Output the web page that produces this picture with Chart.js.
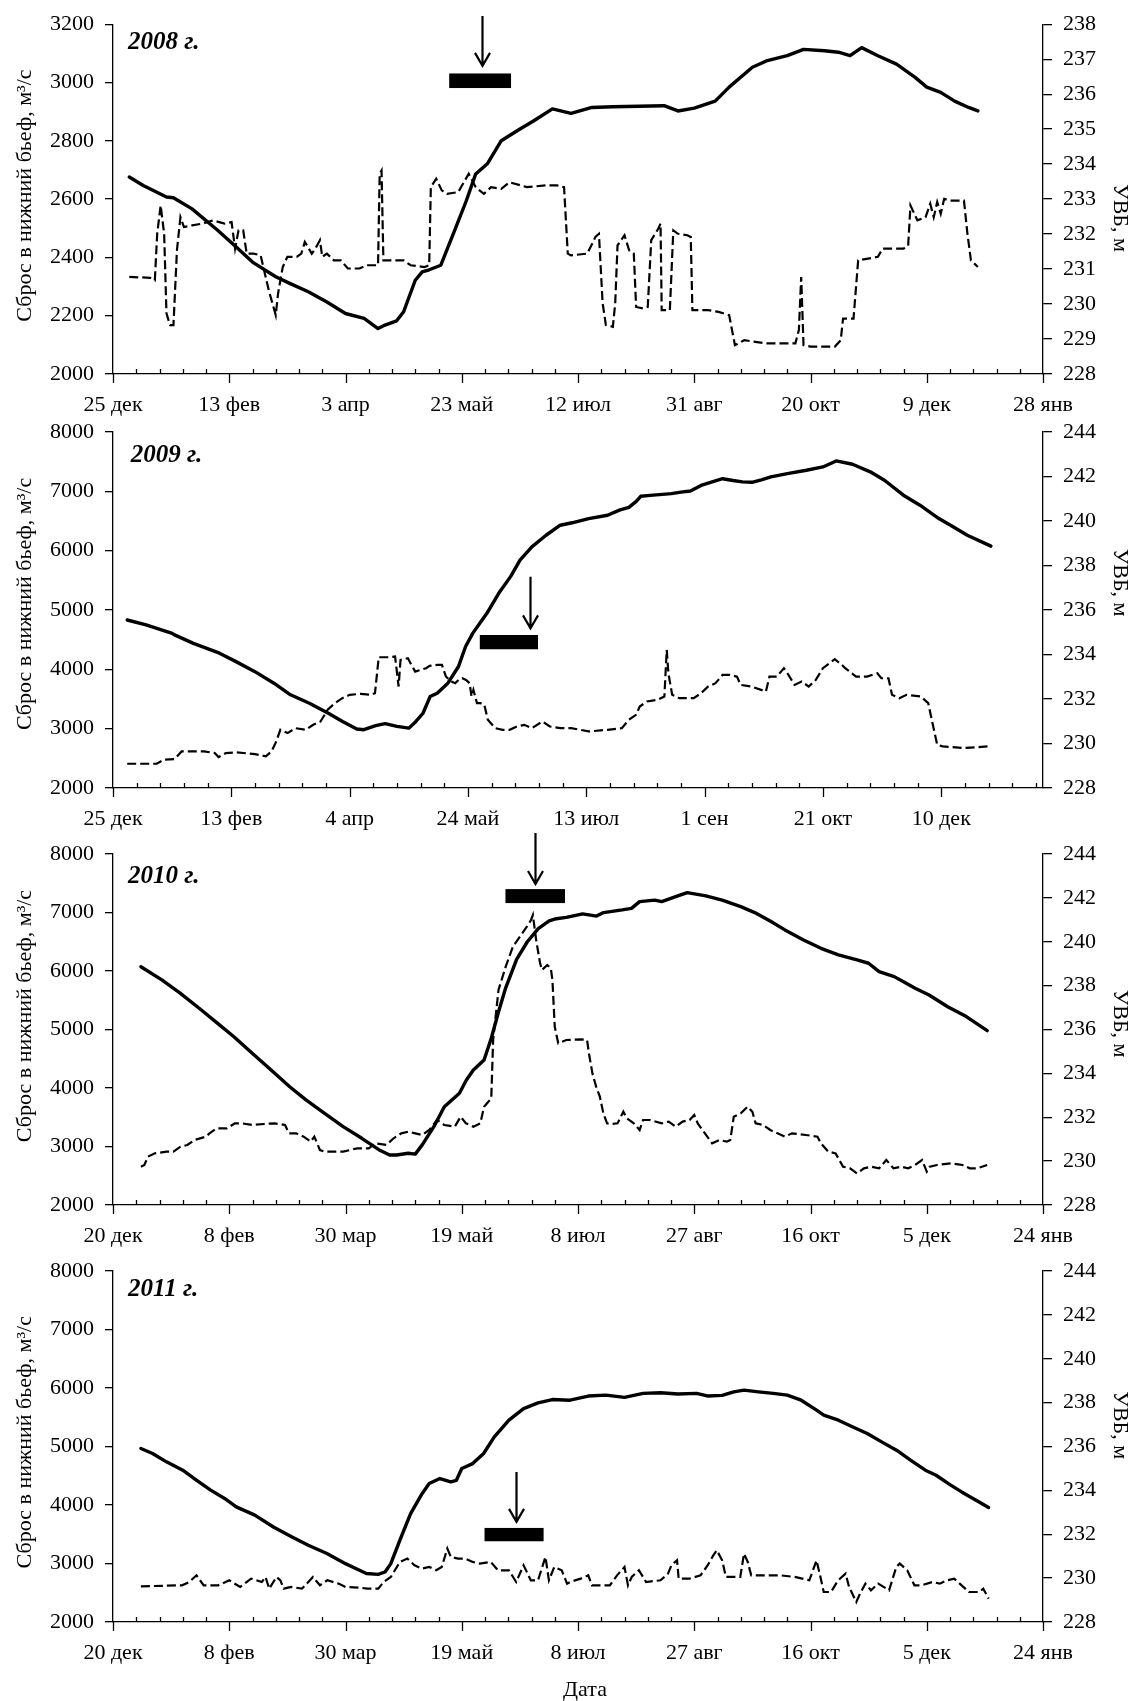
<!DOCTYPE html>
<html lang="ru">
<head>
<meta charset="utf-8">
<title>Сброс в нижний бьеф и УВБ, 2008–2011</title>
<script src="https://cdn.jsdelivr.net/npm/chart.js@4.4.1/dist/chart.umd.min.js"></script>
<style>
  html, body { margin: 0; padding: 0; background: #fff; }
  body { width: 1140px; height: 1701px; position: relative; overflow: hidden; }
  canvas { position: absolute; left: 0; }
</style>
</head>
<body>
<canvas id="c2008" width="1140" height="424" style="top:0px"></canvas>
<canvas id="c2009" width="1140" height="436" style="top:402px"></canvas>
<canvas id="c2010" width="1140" height="431" style="top:824px"></canvas>
<canvas id="c2011" width="1140" height="460" style="top:1241px"></canvas>
<script>
// x values are days from the first tick of each panel's date axis

const ticks2008 = ["25 дек", "13 фев", "3 апр", "23 май", "12 июл", "31 авг", "20 окт", "9 дек", "28 янв"];
const ticks2009 = ["25 дек", "13 фев", "4 апр", "24 май", "13 июл", "1 сен", "21 окт", "10 дек"];
const ticks2010 = ["20 дек", "8 фев", "30 мар", "19 май", "8 июл", "27 авг", "16 окт", "5 дек", "24 янв"];
const ticks2011 = ["20 дек", "8 фев", "30 мар", "19 май", "8 июл", "27 авг", "16 окт", "5 дек", "24 янв"];

// УВБ, м (solid line, right axis)
const level2008 = [
  [7, 233.63], [13, 233.39], [23, 233.06], [26, 233.04], [34, 232.72], [45, 232.11], [53, 231.63], [60, 231.2],
  [70, 230.78], [76, 230.59], [84, 230.35], [92, 230.06], [100, 229.73], [108, 229.59], [114, 229.3], [117, 229.4],
  [122, 229.52], [125, 229.78], [130, 230.68], [133, 230.92], [136, 230.98], [141, 231.11], [147, 232.11],
  [152, 232.96], [156, 233.72], [161, 234.01], [167, 234.67], [174, 234.96], [181, 235.24], [189, 235.58],
  [197, 235.45], [206, 235.62], [215, 235.64], [237, 235.67], [243, 235.52], [250, 235.6], [259, 235.8],
  [265, 236.2], [275, 236.77], [281, 236.95], [290, 237.1], [297, 237.28], [306, 237.24], [312, 237.2],
  [317, 237.1], [322, 237.33], [329, 237.1], [337, 236.86], [345, 236.48], [350, 236.2], [356, 236.05],
  [362, 235.8], [368, 235.62], [372, 235.52]
];
const level2009 = [
  [6, 235.55], [14, 235.33], [25, 234.95], [26, 234.88], [34, 234.5], [45, 234.06], [52, 233.68], [60, 233.23],
  [68, 232.71], [75, 232.19], [83, 231.81], [91, 231.36], [97, 230.99], [103, 230.65], [106, 230.62], [111, 230.8],
  [115, 230.89], [120, 230.77], [125, 230.69], [128, 230.99], [131, 231.36], [134, 232.11], [137, 232.26],
  [141.5, 232.71], [146, 233.46], [149, 234.36], [152, 234.95], [155, 235.4], [158, 235.85], [163, 236.75],
  [168, 237.5], [172, 238.24], [177, 238.84], [183, 239.36], [189, 239.81], [194, 239.92], [201, 240.11],
  [209, 240.26], [214, 240.49], [218, 240.61], [221, 240.87], [223, 241.11], [227, 241.15], [236, 241.23],
  [240, 241.3], [244, 241.35], [248.5, 241.6], [251.5, 241.7], [257.6, 241.9], [262, 241.82], [266, 241.76],
  [270, 241.74], [274, 241.85], [278, 241.98], [285, 242.13], [293, 242.28], [300, 242.43], [305.6, 242.7],
  [312.5, 242.55], [320, 242.21], [326, 241.83], [334, 241.16], [341, 240.71], [349, 240.11], [355, 239.74],
  [361, 239.36], [371, 238.87]
];
const level2010 = [
  [12, 238.86], [21, 238.26], [29, 237.65], [38, 236.89], [45, 236.28], [52, 235.67], [60, 234.91], [68, 234.15],
  [76, 233.39], [83, 232.79], [91, 232.18], [99, 231.57], [107, 231.04], [114.5, 230.51], [119, 230.28],
  [122, 230.28], [127, 230.36], [130, 230.32], [133, 230.74], [138, 231.57], [142.5, 232.48], [149, 233.09],
  [152, 233.7], [155, 234.15], [159.6, 234.61], [162.7, 235.6], [165.8, 236.8], [168.9, 237.9], [173.6, 239.2],
  [178.2, 240.0], [182.9, 240.6], [187.6, 240.95], [190.7, 241.05], [195, 241.11], [202, 241.27], [208, 241.17],
  [211, 241.33], [219, 241.45], [223, 241.52], [226.5, 241.83], [233, 241.9], [236, 241.83], [242, 242.06],
  [247, 242.24], [255, 242.09], [262, 241.9], [270, 241.6], [276, 241.33], [283, 240.92], [289, 240.54],
  [297, 240.08], [304.5, 239.7], [312, 239.4], [320, 239.17], [325, 239.02], [329.5, 238.64], [336, 238.41],
  [340, 238.18], [345, 237.88], [351, 237.57], [359, 237.04], [367, 236.59], [376, 235.95]
];
const level2011 = [
  [12, 235.91], [17, 235.68], [23, 235.3], [30, 234.92], [36, 234.46], [42, 234.01], [48, 233.63], [53, 233.25],
  [61, 232.87], [69, 232.33], [77, 231.88], [84, 231.5], [92, 231.12], [100, 230.66], [106, 230.36], [109, 230.21],
  [114, 230.17], [117, 230.28], [119.5, 230.66], [123.4, 231.73], [128, 232.94], [133, 233.86], [136, 234.31],
  [140.6, 234.54], [145.3, 234.39], [147.7, 234.46], [150, 235.0], [154.7, 235.22], [159.4, 235.68], [164, 236.44],
  [170.3, 237.2], [176.6, 237.73], [182.8, 237.99], [189, 238.14], [196.6, 238.11], [204.4, 238.3], [212, 238.34],
  [220, 238.24], [228, 238.42], [235.5, 238.45], [243, 238.39], [251, 238.42], [256, 238.3], [262, 238.33],
  [267, 238.49], [271.4, 238.57], [277.6, 238.49], [284, 238.42], [290, 238.34], [296, 238.11], [302.6, 237.66],
  [305.7, 237.43], [312, 237.2], [318, 236.9], [324.4, 236.59], [330.6, 236.21], [337, 235.83], [343, 235.38],
  [349.4, 234.92], [354, 234.69], [360.3, 234.24], [365, 233.93], [371.2, 233.55], [376.6, 233.22]
];

// сброс в нижний бьеф, м3/с (dashed line, left axis)
const flow2008 = [
  [7, 2333], [16, 2330], [18, 2322], [19, 2481], [20.5, 2578], [22, 2481], [23, 2208], [24.5, 2168], [26, 2168],
  [27.5, 2424], [29, 2538], [30.5, 2504], [34, 2510], [38.5, 2516], [43, 2527], [48, 2516], [51, 2521],
  [52.5, 2430], [54, 2493], [56, 2493], [57.5, 2413], [60.5, 2413], [63.5, 2407], [67, 2287], [70, 2202],
  [71, 2276], [73, 2367], [75, 2402], [79, 2402], [81, 2413], [82.5, 2453], [85.5, 2413], [87, 2430], [89, 2459],
  [90, 2402], [92, 2413], [95, 2390], [98, 2390], [101, 2362], [106, 2362], [109, 2373], [114, 2373],
  [114.7, 2687], [115.5, 2698], [116.3, 2390], [120, 2390], [125, 2390], [128, 2373], [134, 2367], [136, 2373],
  [136.7, 2641], [139, 2670], [141.4, 2630], [143.7, 2618], [148.5, 2624], [153, 2687], [156, 2641],
  [159.5, 2618], [162.6, 2641], [167, 2635], [170.5, 2658], [178, 2641], [186, 2647], [191, 2647], [194, 2641],
  [195.6, 2413], [197, 2407], [204, 2413], [207.5, 2470], [209, 2481], [210.6, 2242], [212, 2168], [215, 2162],
  [216, 2242], [217, 2441], [220, 2476], [222, 2424], [224, 2413], [225, 2230], [228, 2225], [230, 2230],
  [231.5, 2459], [234.5, 2498], [235.5, 2516], [236, 2219], [239.5, 2219], [241, 2493], [243, 2481], [247, 2476],
  [248.5, 2470], [249.2, 2219], [256, 2219], [260.5, 2213], [265, 2202], [267.5, 2099], [271.5, 2116],
  [281, 2105], [290, 2105], [293.5, 2105], [295, 2151], [296, 2333], [297, 2099], [300, 2094], [310.5, 2094],
  [313, 2116], [314, 2190], [318.5, 2190], [320.5, 2390], [329, 2402], [331, 2430], [340, 2430], [342, 2440],
  [343, 2578], [346, 2527], [349.5, 2538], [351.5, 2584], [353, 2538], [354.5, 2590], [356, 2550],
  [357.5, 2601], [360, 2595], [366, 2595], [367.5, 2481], [369, 2390], [372, 2367]
];
const flow2009 = [
  [6, 2409], [18.5, 2409], [21.5, 2477], [26, 2488], [29, 2617], [38.5, 2617], [43, 2589], [44.6, 2521],
  [47.7, 2589], [52, 2600], [60, 2572], [64.6, 2533], [67, 2617], [69, 2785], [70.7, 2981], [73.8, 2925],
  [77, 3009], [81.5, 2981], [84.6, 3065], [87.7, 3121], [90.7, 3318], [93.8, 3430], [96.9, 3514], [100, 3570],
  [104.6, 3587], [109, 3570], [110.7, 3598], [112.3, 4204], [117, 4204], [119.2, 4215], [120.7, 3710],
  [121.5, 4159], [124.6, 4187], [127.7, 3962], [132.3, 4019], [133.8, 4058], [137, 4075], [139, 4075],
  [140.7, 3878], [143, 3794], [144.6, 3766], [146, 3822], [147.6, 3850], [149.2, 3822], [150.7, 3766],
  [151.5, 3542], [152.3, 3654], [153.8, 3430], [155.3, 3430], [156.9, 3402], [158.4, 3149], [161.5, 3009],
  [164.6, 2981], [167.6, 2981], [170.7, 3037], [173.8, 3065], [177, 3009], [181.5, 3121], [184.6, 3037],
  [189, 3009], [193.6, 3009], [201, 2953], [209, 2981], [215, 3009], [218, 3149], [221, 3234], [222.6, 3374],
  [225.6, 3458], [230, 3486], [233, 3542], [234, 4327], [234.7, 3934], [236.3, 3570], [239.3, 3514],
  [245.4, 3514], [248.5, 3598], [251.5, 3710], [254.6, 3766], [257.6, 3906], [260.7, 3906], [263.7, 3878],
  [265.2, 3738], [269.8, 3710], [275.9, 3626], [277.4, 3878], [280.5, 3878], [283.5, 4019], [285, 3934],
  [288, 3738], [291, 3794], [294, 3710], [297, 3822], [300, 4019], [305, 4170], [308, 4075], [309.4, 4019],
  [314, 3878], [318.6, 3878], [323, 3934], [324.7, 3850], [327.7, 3850], [329.2, 3570], [332.3, 3514],
  [335.3, 3570], [341.4, 3542], [344.5, 3430], [346, 3149], [348.3, 2729], [350.6, 2701], [359.7, 2673],
  [369.6, 2701]
];
const flow2010 = [
  [12, 2655], [13.5, 2684], [15, 2826], [18, 2883], [23, 2912], [26, 2912], [29, 2997], [32, 3026], [35, 3111],
  [40, 3168], [41.5, 3225], [44.6, 3311], [49, 3311], [52.4, 3396], [55.5, 3396], [60, 3368], [65, 3385],
  [69.5, 3396], [74, 3368], [75.7, 3225], [78.8, 3225], [82, 3168], [85, 3083], [86.6, 3168], [89, 2940],
  [91, 2912], [99, 2912], [105, 2969], [110, 2969], [113, 3054], [117.6, 3026], [120.7, 3140], [124, 3225],
  [127, 3254], [130, 3225], [133, 3197], [136, 3282], [139.4, 3453], [142.5, 3368], [147, 3339], [149.5, 3510],
  [151.8, 3396], [155, 3339], [158, 3396], [159.6, 3681], [162.7, 3823], [163.5, 4821], [165.8, 5675],
  [168.9, 6074], [172, 6416], [175, 6587], [178, 6758], [179.8, 6872], [180.6, 6957], [182, 6530],
  [183.7, 6131], [184.5, 6017], [186.8, 6103], [188.3, 6046], [189, 5846], [190, 5048], [191.5, 4764],
  [195, 4821], [201.6, 4832], [203.9, 4821], [204.7, 4593], [206.2, 4251], [207.8, 4023], [209.4, 3852],
  [210.9, 3567], [212.5, 3396], [214, 3385], [217, 3396], [219.5, 3595], [221, 3481], [224, 3396],
  [226.5, 3282], [228, 3453], [231, 3453], [236, 3396], [239, 3425], [242, 3339], [245, 3425], [248, 3453],
  [250, 3538], [251.5, 3396], [254.6, 3225], [257.7, 3054], [260.8, 3111], [264, 3083], [265.5, 3111],
  [267, 3510], [270, 3567], [273, 3681], [275, 3595], [276.4, 3396], [279.6, 3368], [282.7, 3282],
  [285.8, 3225], [289, 3168], [292, 3225], [298, 3197], [303, 3168], [304.5, 3054], [307.6, 2912],
  [310.8, 2883], [314, 2655], [317, 2627], [320, 2541], [323, 2627], [326, 2655], [329.5, 2627], [332.6, 2769],
  [335.7, 2627], [339, 2655], [342, 2627], [345, 2684], [348, 2769], [350, 2570], [351.3, 2655], [354.4, 2684],
  [360.7, 2712], [365.4, 2684], [368.5, 2627], [371.6, 2627], [376, 2684]
];
const flow2011 = [
  [12, 2610], [29.7, 2627], [32.8, 2684], [35.9, 2798], [39, 2627], [45.3, 2627], [50, 2713], [54.7, 2599],
  [59.4, 2741], [64, 2684], [65.6, 2770], [67.2, 2570], [70.3, 2770], [72, 2713], [73.4, 2570], [76.6, 2599],
  [81.3, 2570], [86, 2770], [89, 2627], [92.2, 2713], [97, 2656], [100, 2599], [106.3, 2587], [109.4, 2570],
  [114.1, 2570], [116.4, 2684], [119.5, 2770], [123.4, 3027], [126.6, 3084], [129.7, 2970], [132.8, 2912],
  [136, 2941], [139, 2884], [141.4, 2941], [143.8, 3255], [145.3, 3112], [148.4, 3084], [151.6, 3084],
  [154.7, 3027], [157.8, 2998], [162.5, 3027], [165.6, 2884], [170.3, 2884], [173.4, 2684], [176.6, 2970],
  [179.7, 2713], [182.8, 2713], [186, 3112], [187.5, 2713], [189.8, 2941], [193, 2884], [195.3, 2656],
  [196.6, 2684], [201.2, 2741], [204.4, 2798], [206, 2627], [209, 2627], [213.7, 2627], [216.8, 2798],
  [220, 2941], [221.5, 2627], [223.1, 2770], [226.2, 2884], [229.3, 2684], [235.5, 2713], [238.7, 2827],
  [240.2, 2970], [242.6, 3055], [243.3, 2741], [248, 2741], [252.7, 2798], [255.8, 2970], [258.2, 3141],
  [259.7, 3226], [262, 3055], [263.6, 2770], [269.8, 2770], [271.4, 3169], [273, 3027], [274.5, 2798],
  [280.8, 2798], [287, 2798], [293.2, 2770], [299.5, 2713], [302.6, 3055], [304.1, 2798], [305.7, 2513],
  [308.8, 2513], [311.9, 2713], [315.1, 2827], [316.6, 2599], [319.7, 2342], [321.3, 2485], [323.6, 2656],
  [326, 2542], [329.1, 2656], [333.8, 2542], [336.9, 2941], [338.4, 2998], [341.6, 2884], [344.7, 2627],
  [347.8, 2627], [352.5, 2684], [355.6, 2656], [358.7, 2713], [361.8, 2741], [365, 2627], [368.1, 2513],
  [372.7, 2513], [374.3, 2570], [376.6, 2399]
];

const SERIF = "'Liberation Serif', 'Times New Roman', serif";
const Q_TITLE = "Сброс в нижний бьеф, м³/с";
const H_TITLE = "УВБ, м";

Chart.defaults.font.family = SERIF;
Chart.defaults.font.size = 22;
Chart.defaults.color = "#000";

// per panel: axes ranges and annotation anchors, given in axis units
const panels = [
  {
    id: "c2008", year: "2008 г.", level: level2008, flow: flow2008, labels: ticks2008, xMax: 400,
    qMin: 2000, qMax: 3200, qStep: 200, hMin: 228, hMax: 238, hStep: 1,
    padTop: 23, axisH: 50,
    yearAt: [6.5, 3115], arrow: [158.6, 3228, 3057], bar: [144.6, 171.2, 2981, 3031],
    qTitleAt: 2612, hTitleAt: 232.46
  },
  {
    id: "c2009", year: "2009 г.", level: level2009, flow: flow2009, labels: ticks2009, xMax: 393,
    qMin: 2000, qMax: 8000, qStep: 1000, hMin: 228, hMax: 244, hStep: 2,
    padTop: 30, axisH: 50,
    yearAt: [7.5, 7492], arrow: [176.1, 5560, 4691], bar: [155.0, 179.6, 4338, 4579],
    qTitleAt: 5102, hTitleAt: 237.23
  },
  {
    id: "c2010", year: "2010 г.", level: level2010, flow: flow2010, labels: ticks2010, xMax: 400,
    qMin: 2000, qMax: 8000, qStep: 1000, hMin: 228, hMax: 244, hStep: 2,
    padTop: 30, axisH: 50,
    yearAt: [6.5, 7503], arrow: [181.5, 8357, 7486], bar: [168.8, 194.4, 7161, 7400],
    qTitleAt: 5230, hTitleAt: 236.27
  },
  {
    id: "c2011", year: "2011 г.", level: level2011, flow: flow2011, labels: ticks2011, xMax: 400,
    qMin: 2000, qMax: 8000, qStep: 1000, hMin: 228, hMax: 244, hStep: 2,
    padTop: 30, axisH: 79, xTitle: "Дата", xTitleAt: 203,
    yearAt: [6.5, 7570], arrow: [173.4, 4566, 3711], bar: [159.8, 185.2, 3380, 3608],
    qTitleAt: 5073, hTitleAt: 236.97
  }
];

const toPoints = (pairs) => pairs.map(([x, y]) => ({ x, y }));

// date-axis tick marks, axis titles, year caption, arrow and bar
const makeDecor = (p) => ({
  id: "decor",
  afterDraw(chart) {
    const { ctx, chartArea } = chart;
    const x = chart.scales.x;
    const q = chart.scales.q;
    const h = chart.scales.h;
    const base = chartArea.bottom;

    ctx.save();
    ctx.strokeStyle = "#000";
    ctx.fillStyle = "#000";
    ctx.lineWidth = 1.3;
    for (let d = 0; d <= p.xMax; d += 10) {
      const px = Math.round(x.getPixelForValue(d)) + 0.5;
      const major = d % 50 === 0;
      ctx.beginPath();
      ctx.moveTo(px, base - (major ? 0 : 5));
      ctx.lineTo(px, base + (major ? 9 : 0));
      ctx.stroke();
    }

    ctx.font = "22px " + SERIF;
    ctx.textAlign = "center";
    ctx.textBaseline = "middle";
    ctx.save();
    ctx.translate(25, q.getPixelForValue(p.qTitleAt));
    ctx.rotate(-Math.PI / 2);
    ctx.fillText(Q_TITLE, 0, 0);
    ctx.restore();
    ctx.save();
    ctx.translate(1120, h.getPixelForValue(p.hTitleAt));
    ctx.rotate(Math.PI / 2);
    ctx.fillText(H_TITLE, 0, 0);
    ctx.restore();
    if (p.xTitle) {
      ctx.fillText(p.xTitle, x.getPixelForValue(p.xTitleAt), base + 68);
    }

    ctx.font = "bold italic 25px " + SERIF;
    ctx.textAlign = "left";
    ctx.textBaseline = "alphabetic";
    ctx.fillText(p.year, x.getPixelForValue(p.yearAt[0]), q.getPixelForValue(p.yearAt[1]));

    const [bx0, bx1, by0, by1] = p.bar;
    const left = x.getPixelForValue(bx0);
    const top = q.getPixelForValue(by1);
    ctx.fillRect(left, top, x.getPixelForValue(bx1) - left, q.getPixelForValue(by0) - top);

    const [ad, aTop, aTip] = p.arrow;
    const ax = Math.round(x.getPixelForValue(ad)) + 0.5;
    const tip = q.getPixelForValue(aTip);
    ctx.lineWidth = 2.2;
    ctx.beginPath();
    ctx.moveTo(ax, q.getPixelForValue(aTop));
    ctx.lineTo(ax, tip);
    ctx.moveTo(ax - 7.5, tip - 13);
    ctx.lineTo(ax, tip);
    ctx.lineTo(ax + 7.5, tip - 13);
    ctx.stroke();
    ctx.restore();
  }
});

const axisLine = { display: true, color: "#000", width: 1.3 };

panels.forEach((p) => {
  new Chart(document.getElementById(p.id), {
    type: "line",
    data: {
      datasets: [
        {
          label: H_TITLE,
          data: toPoints(p.level),
          yAxisID: "h",
          borderColor: "#000",
          borderWidth: 3.4,
          borderJoinStyle: "round",
          borderCapStyle: "round",
          pointRadius: 0,
          tension: 0
        },
        {
          label: Q_TITLE,
          data: toPoints(p.flow),
          yAxisID: "q",
          borderColor: "#000",
          borderWidth: 2.2,
          borderDash: [9, 4],
          pointRadius: 0,
          tension: 0
        }
      ]
    },
    options: {
      responsive: false,
      animation: false,
      events: [],
      layout: { padding: { top: p.padTop, left: 0, right: 0, bottom: 0 } },
      plugins: {
        legend: { display: false },
        tooltip: { enabled: false }
      },
      scales: {
        x: {
          type: "linear",
          min: 0,
          max: p.xMax,
          afterFit: (s) => { s.height = p.axisH; },
          border: axisLine,
          grid: { drawOnChartArea: false, drawTicks: false },
          ticks: {
            stepSize: 10,
            autoSkip: false,
            maxRotation: 0,
            includeBounds: false,
            padding: 18,
            callback: (v) => {
              const d = Math.round(v);
              return d % 50 === 0 ? (p.labels[d / 50] || "") : "";
            }
          }
        },
        q: {
          type: "linear",
          position: "left",
          min: p.qMin,
          max: p.qMax,
          afterFit: (s) => { s.width = 113; },
          border: axisLine,
          grid: { drawOnChartArea: false, tickLength: 8, color: "#000", lineWidth: 1.3 },
          ticks: { stepSize: p.qStep, padding: 11, callback: (v) => String(v) }
        },
        h: {
          type: "linear",
          position: "right",
          min: p.hMin,
          max: p.hMax,
          afterFit: (s) => { s.width = 97; },
          border: axisLine,
          grid: { drawOnChartArea: false, tickLength: 9, color: "#000", lineWidth: 1.3 },
          ticks: { stepSize: p.hStep, padding: 11, callback: (v) => String(v) }
        }
      }
    },
    plugins: [makeDecor(p)]
  });
});
</script>
</body>
</html>
